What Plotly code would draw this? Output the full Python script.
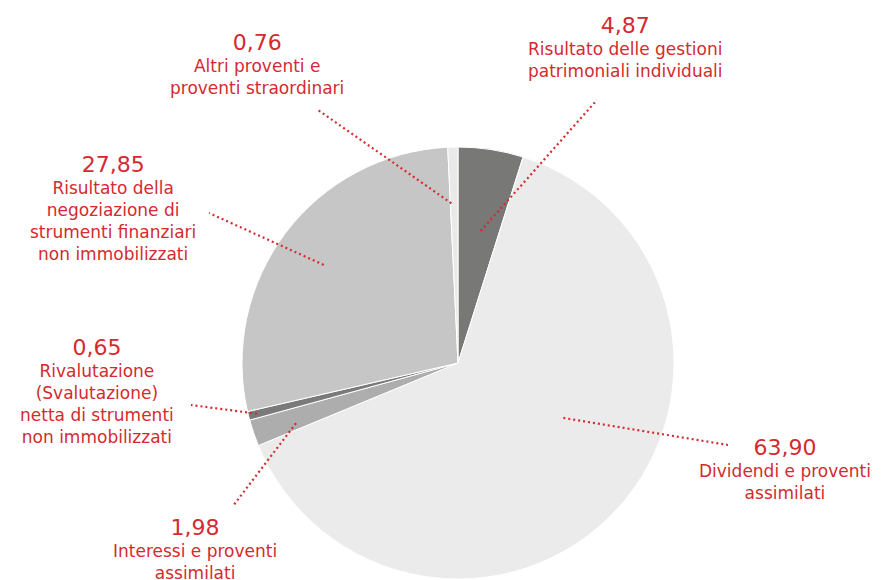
import math
import plotly.graph_objects as go

values = [4.87, 63.90, 1.98, 0.65, 27.85, 0.76]
value_labels = ["4,87", "63,90", "1,98", "0,65", "27,85", "0,76"]
names = [
    "Risultato delle gestioni<br>patrimoniali individuali",
    "Dividendi e proventi<br>assimilati",
    "Interessi e proventi<br>assimilati",
    "Rivalutazione<br>(Svalutazione)<br>netta di strumenti<br>non immobilizzati",
    "Risultato della<br>negoziazione di<br>strumenti finanziari<br>non immobilizzati",
    "Altri proventi e<br>proventi straordinari",
]
colors = ["#787876", "#ebebeb", "#adadad", "#7a7a7a", "#c6c6c6", "#e9e9e9"]

W, H = 883, 580
CX, CY, R = 458, 363, 216
RED = "#d42a30"

# label placement (pixels): text centre x, text top y, leader end point
label_pos = [(625, 11), (785, 433), (195, 513), (97, 333), (113, 150), (257, 28)]
lead_end = [(597, 100), (728, 445), (233, 506), (191, 405), (209, 213), (318, 110)]
# leader start: shift from slice mid angle (deg) and fraction of radius
lead_shift = [1, -15, -1.5, 0, -1, -1]
lead_frac = [0.62, 0.55, 0.80, 0.96, 0.77, 0.74]


def px(x):
    return x / W


def py(y):
    return 1 - y / H


fig = go.Figure(go.Pie(
    values=values,
    sort=False,
    direction="clockwise",
    rotation=0,
    marker=dict(colors=colors, line=dict(color="white", width=1)),
    textinfo="none",
    hoverinfo="skip",
    showlegend=False,
    domain=dict(x=[px(CX - R), px(CX + R)], y=[py(CY + R), py(CY - R)]),
))

total = sum(values)
cum = 0
for i, v in enumerate(values):
    mid = (cum + v / 2) / total * 360 + lead_shift[i]
    cum += v
    r = R * lead_frac[i]
    x0 = CX + r * math.sin(math.radians(mid))
    y0 = CY - r * math.cos(math.radians(mid))
    x1, y1 = lead_end[i]
    fig.add_shape(type="line", xref="paper", yref="paper",
                  x0=px(x0), y0=py(y0), x1=px(x1), y1=py(y1),
                  line=dict(color=RED, width=2.2, dash="2px,3px"))
    lx, ly = label_pos[i]
    fig.add_annotation(
        x=px(lx), y=py(ly), xref="paper", yref="paper",
        xanchor="center", yanchor="top", showarrow=False, align="center",
        text=f"<span style='font-size:22px'>{value_labels[i]}</span><br>{names[i]}",
        font=dict(family="DejaVu Sans", size=17, color=RED),
    )

fig.update_layout(
    width=W, height=H,
    margin=dict(l=0, r=0, t=0, b=0),
    paper_bgcolor="white",
    plot_bgcolor="white",
)

# drop the default body margin so the figure sits in the page corner
fig.write_html("out.html", config={"displayModeBar": False},
               post_script="document.body.style.margin = '0';")
